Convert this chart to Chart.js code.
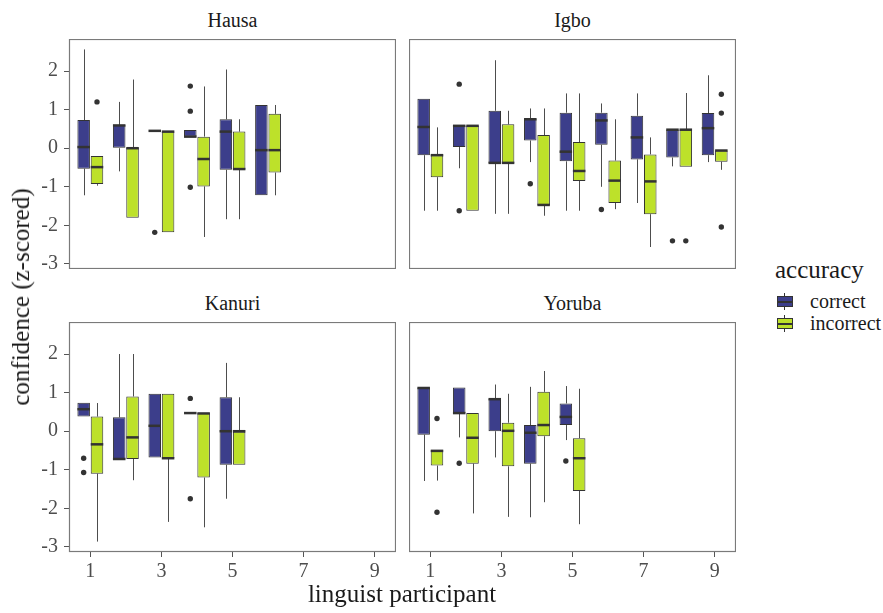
<!DOCTYPE html>
<html>
<head>
<meta charset="utf-8">
<script src="https://cdn.jsdelivr.net/npm/chart.js@4.4.1/dist/chart.umd.min.js"></script>
<style>
  body { margin: 0; background: #fff; }
  #wrap { position: relative; width: 883px; height: 613px; font-family: "Liberation Serif", "DejaVu Serif", serif; }
  canvas { position: absolute; }
  .txt { position: absolute; white-space: nowrap; color: #1a1a1a; }
  .strip { font-size: 20px; line-height: 22px; width: 327px; text-align: center; }
  .key { position: absolute; width: 16px; height: 17px; }
  .key .wh { position: absolute; left: 7px; top: 0; width: 1px; height: 17px; background: #333; }
  .key .bx { position: absolute; left: 0; top: 3px; width: 16px; height: 11px; border: 1px solid #333; box-sizing: border-box; }
  .key .md { position: absolute; left: 0; top: 7.5px; width: 16px; height: 2px; background: #333; }
</style>
</head>
<body>
<div id="wrap">
  <canvas id="cHausa" width="382" height="230" style="left:14px; top:39px"></canvas>
  <canvas id="cIgbo" width="327" height="230" style="left:409px; top:39px"></canvas>
  <canvas id="cKanuri" width="382" height="262" style="left:14px; top:322px"></canvas>
  <canvas id="cYoruba" width="327" height="262" style="left:409px; top:322px"></canvas>

  <div class="txt strip" style="left:69px; top:9px">Hausa</div>
  <div class="txt strip" style="left:409px; top:9px">Igbo</div>
  <div class="txt strip" style="left:69px; top:292px">Kanuri</div>
  <div class="txt strip" style="left:409px; top:292px">Yoruba</div>

  <div class="txt" style="left:402px; top:580px; font-size:25px; line-height:28px; transform:translateX(-50%)">linguist participant</div>
  <div class="txt" style="left:21px; top:297px; font-size:25px; line-height:28px; transform:translate(-50%,-50%) rotate(-90deg)">confidence (z-scored)</div>

  <div class="txt" style="left:775px; top:256px; font-size:25px; line-height:28px">accuracy</div>
  <div class="key" style="left:777px; top:293px"><div class="wh"></div><div class="bx" style="background:#3c3e8b"></div><div class="md"></div></div>
  <div class="key" style="left:777px; top:315px"><div class="wh"></div><div class="bx" style="background:#bde12a"></div><div class="md"></div></div>
  <div class="txt" style="left:810px; top:290px; font-size:20px; line-height:22px">correct</div>
  <div class="txt" style="left:810px; top:312px; font-size:20px; line-height:22px">incorrect</div>
</div>

<script>
// participants on the x axis
const participants = [1, 2, 3, 4, 5, 6, 7, 8, 9];
const xTicks = [1, 3, 5, 7, 9];
const yTicks = [-3, -2, -1, 0, 1, 2];

// five-number summaries per participant: [lower whisker, q1, median, q3, upper whisker]
const hausaCorrect = [
    [-1.22, -0.53, 0.03, 0.73, 2.56],
    [-0.60, 0.00, 0.59, 0.60, 1.20],
    [0.45, 0.45, 0.45, 0.45, 0.45],
    [0.30, 0.30, 0.30, 0.47, 0.47],
    [-1.84, -0.56, 0.43, 0.75, 2.04],
    [-1.22, -1.22, -0.05, 1.12, 1.12]
];
const hausaIncorrect = [
    [-0.97, -0.93, -0.49, -0.20, -0.20],
    [-1.80, -1.80, 0.00, 0.02, 1.78],
    [-2.18, -2.18, 0.43, 0.43, 0.43],
    [-2.30, -0.99, -0.28, 0.30, 1.60],
    [-1.84, -0.56, -0.54, 0.43, 0.75],
    [-1.22, -0.63, -0.05, 0.89, 1.12]
];
const hausaCorrectOut = [[], [], [-2.18], [1.61, 0.96, -1.01], [], []];
const hausaIncorrectOut = [[1.20], [], [], [], [], []];

const igboCorrect = [
    [-1.62, -0.18, 0.55, 1.28, 1.28],
    [-0.52, 0.03, 0.58, 0.58, 0.58],
    [-1.70, -0.38, -0.38, 0.97, 2.28],
    [-0.36, 0.20, 0.75, 0.77, 1.03],
    [-1.62, -0.34, -0.09, 0.92, 1.42],
    [-1.00, 0.09, 0.72, 0.92, 1.16],
    [-1.42, -0.29, 0.28, 0.84, 1.42],
    [-0.47, -0.24, 0.48, 0.48, 0.48],
    [-0.36, -0.18, 0.52, 0.91, 1.89]
];
const igboIncorrect = [
    [-1.62, -0.75, -0.18, -0.18, 0.54],
    [-1.62, -1.62, 0.58, 0.58, 0.58],
    [-1.70, -0.38, -0.38, 0.62, 0.97],
    [-1.75, -1.47, -1.47, 0.34, 1.03],
    [-1.62, -0.85, -0.59, 0.16, 1.42],
    [-1.58, -1.42, -0.84, -0.32, 0.75],
    [-2.56, -1.71, -0.86, -0.16, 0.28],
    [-0.48, -0.48, 0.48, 0.48, 1.43],
    [-0.56, -0.35, -0.06, -0.06, -0.06]
];
const igboCorrectOut = [[], [1.66, -1.62], [], [-0.92], [], [-1.59], [], [-2.40], []];
const igboIncorrectOut = [[], [], [], [], [], [], [], [-2.40], [1.40, 0.91, -2.04]];

const kanuriCorrect = [
    [0.38, 0.38, 0.57, 0.74, 0.74],
    [-0.73, -0.73, -0.72, 0.36, 2.00],
    [-0.68, -0.68, 0.14, 0.97, 0.97],
    [0.47, 0.47, 0.47, 0.47, 0.47],
    [-1.75, -0.87, 0.00, 0.88, 1.77]
];
const kanuriIncorrect = [
    [-2.86, -1.10, -0.34, 0.38, 0.73],
    [-1.27, -0.72, -0.16, 0.90, 2.00],
    [-2.35, -0.70, -0.70, 0.97, 0.97],
    [-2.49, -1.20, 0.46, 0.47, 0.47],
    [-0.87, -0.87, 0.00, 0.00, 0.88]
];
const kanuriCorrectOut = [[-0.70, -1.07], [], [], [0.85, -1.75], []];
const kanuriIncorrectOut = [[], [], [], [], []];

const yorubaCorrect = [
    [-1.29, -0.09, 1.12, 1.13, 1.13],
    [-0.16, 0.47, 0.47, 1.13, 1.13],
    [-0.68, 0.00, 0.83, 0.84, 1.21],
    [-2.23, -0.84, -0.04, 0.16, 1.15],
    [-0.23, 0.16, 0.37, 0.72, 1.17]
];
const yorubaIncorrect = [
    [-1.28, -0.89, -0.51, -0.48, -0.48],
    [-2.13, -0.84, -0.17, 0.47, 0.47],
    [-2.22, -0.91, 0.01, 0.22, 0.97],
    [-1.84, -0.13, 0.16, 1.02, 1.56],
    [-2.41, -1.55, -0.70, -0.18, 1.10]
];
const yorubaCorrectOut = [[], [-0.83], [], [], [-0.77]];
const yorubaIncorrectOut = [[0.33, -2.10], [], [], [], []];

const colCorrect = "#3c3e8b";
const colIncorrect = "#bde12a";
const tickFont = { family: "Liberation Serif", size: 20 };

// whiskers, medians, outliers and the panel border
const boxplotPlugin = {
    id: "boxplot",
    beforeDatasetsDraw(chart) {
        const ctx = chart.ctx, ys = chart.scales.y;
        ctx.save();
        ctx.strokeStyle = "#4d4d4d";
        ctx.lineWidth = 1;
        chart.data.datasets.forEach((ds, d) => {
            chart.getDatasetMeta(d).data.forEach((el, i) => {
                const s = ds.stats[i];
                const x = Math.round(el.x) + 0.5;
                ctx.beginPath();
                ctx.moveTo(x, ys.getPixelForValue(s[0]));
                ctx.lineTo(x, ys.getPixelForValue(s[1]));
                ctx.moveTo(x, ys.getPixelForValue(s[3]));
                ctx.lineTo(x, ys.getPixelForValue(s[4]));
                ctx.stroke();
            });
        });
        ctx.restore();
    },
    afterDatasetsDraw(chart) {
        const ctx = chart.ctx, ys = chart.scales.y;
        ctx.save();
        chart.data.datasets.forEach((ds, d) => {
            chart.getDatasetMeta(d).data.forEach((el, i) => {
                const s = ds.stats[i];
                const ym = ys.getPixelForValue(s[2]);
                ctx.strokeStyle = "#333";
                ctx.lineWidth = 2.5;
                ctx.beginPath();
                ctx.moveTo(el.x - el.width / 2, ym);
                ctx.lineTo(el.x + el.width / 2, ym);
                ctx.stroke();
                ctx.fillStyle = "#333";
                ds.outliers[i].forEach(v => {
                    ctx.beginPath();
                    ctx.arc(el.x, ys.getPixelForValue(v), 2.7, 0, Math.PI * 2);
                    ctx.fill();
                });
            });
        });
        ctx.restore();
    },
    afterDraw(chart) {
        const a = chart.chartArea, ctx = chart.ctx;
        ctx.save();
        ctx.strokeStyle = "#7a7a7a";
        ctx.lineWidth = 1.2;
        ctx.strokeRect(a.left + 0.5, a.top + 0.5, a.right - a.left - 1, a.bottom - a.top - 1);
        ctx.restore();
    }
};

function makeDataset(label, stats, outliers, color) {
    return {
        label: label,
        data: stats.map((s, i) => ({ x: participants[i], y: [s[1], s[3]] })),
        stats: stats,
        outliers: outliers,
        backgroundColor: color,
        borderColor: "#333",
        borderWidth: 1,
        borderSkipped: false,
        categoryPercentage: 0.75,
        barPercentage: 0.94
    };
}

// no label overhang padding, fixed axis sizes so every panel lines up
function fixAxis(axis, size) {
    axis.paddingTop = 0;
    axis.paddingBottom = 0;
    axis.paddingLeft = 0;
    axis.paddingRight = 0;
    if (axis.options.display) {
        if (axis.isHorizontal()) axis.height = size;
        else axis.width = size;
    } else {
        if (axis.isHorizontal()) axis.height = 0;
        else axis.width = 0;
    }
}

function makePanel(id, correct, incorrect, correctOut, incorrectOut, showX, showY) {
    const ctx = document.getElementById(id).getContext("2d");
    return new Chart(ctx, {
        type: "bar",
        data: {
            datasets: [
                makeDataset("correct", correct, correctOut, colCorrect),
                makeDataset("incorrect", incorrect, incorrectOut, colIncorrect)
            ]
        },
        options: {
            responsive: false,
            animation: false,
            layout: { padding: 0 },
            plugins: { legend: { display: false }, tooltip: { enabled: false } },
            scales: {
                x: {
                    type: "linear",
                    display: showX,
                    min: 0.4,
                    max: 9.6,
                    offset: false,
                    afterBuildTicks: axis => { axis.ticks = xTicks.map(v => ({ value: v })); },
                    afterFit: axis => fixAxis(axis, 32),
                    grid: { drawOnChartArea: false, drawTicks: true, tickLength: 5, tickColor: "#555", offset: false },
                    border: { display: false },
                    ticks: { font: tickFont, color: "#4d4d4d", padding: 3, autoSkip: false, maxRotation: 0 }
                },
                y: {
                    type: "linear",
                    display: showY,
                    min: -3.13,
                    max: 2.83,
                    afterBuildTicks: axis => { axis.ticks = yTicks.map(v => ({ value: v })); },
                    afterFit: axis => fixAxis(axis, 55),
                    grid: { drawOnChartArea: false, drawTicks: true, tickLength: 5, tickColor: "#555" },
                    border: { display: false },
                    ticks: { font: tickFont, color: "#4d4d4d", padding: 6 }
                }
            }
        },
        plugins: [boxplotPlugin]
    });
}

makePanel("cHausa", hausaCorrect, hausaIncorrect, hausaCorrectOut, hausaIncorrectOut, false, true);
makePanel("cIgbo", igboCorrect, igboIncorrect, igboCorrectOut, igboIncorrectOut, false, false);
makePanel("cKanuri", kanuriCorrect, kanuriIncorrect, kanuriCorrectOut, kanuriIncorrectOut, true, true);
makePanel("cYoruba", yorubaCorrect, yorubaIncorrect, yorubaCorrectOut, yorubaIncorrectOut, true, false);
</script>
</body>
</html>
